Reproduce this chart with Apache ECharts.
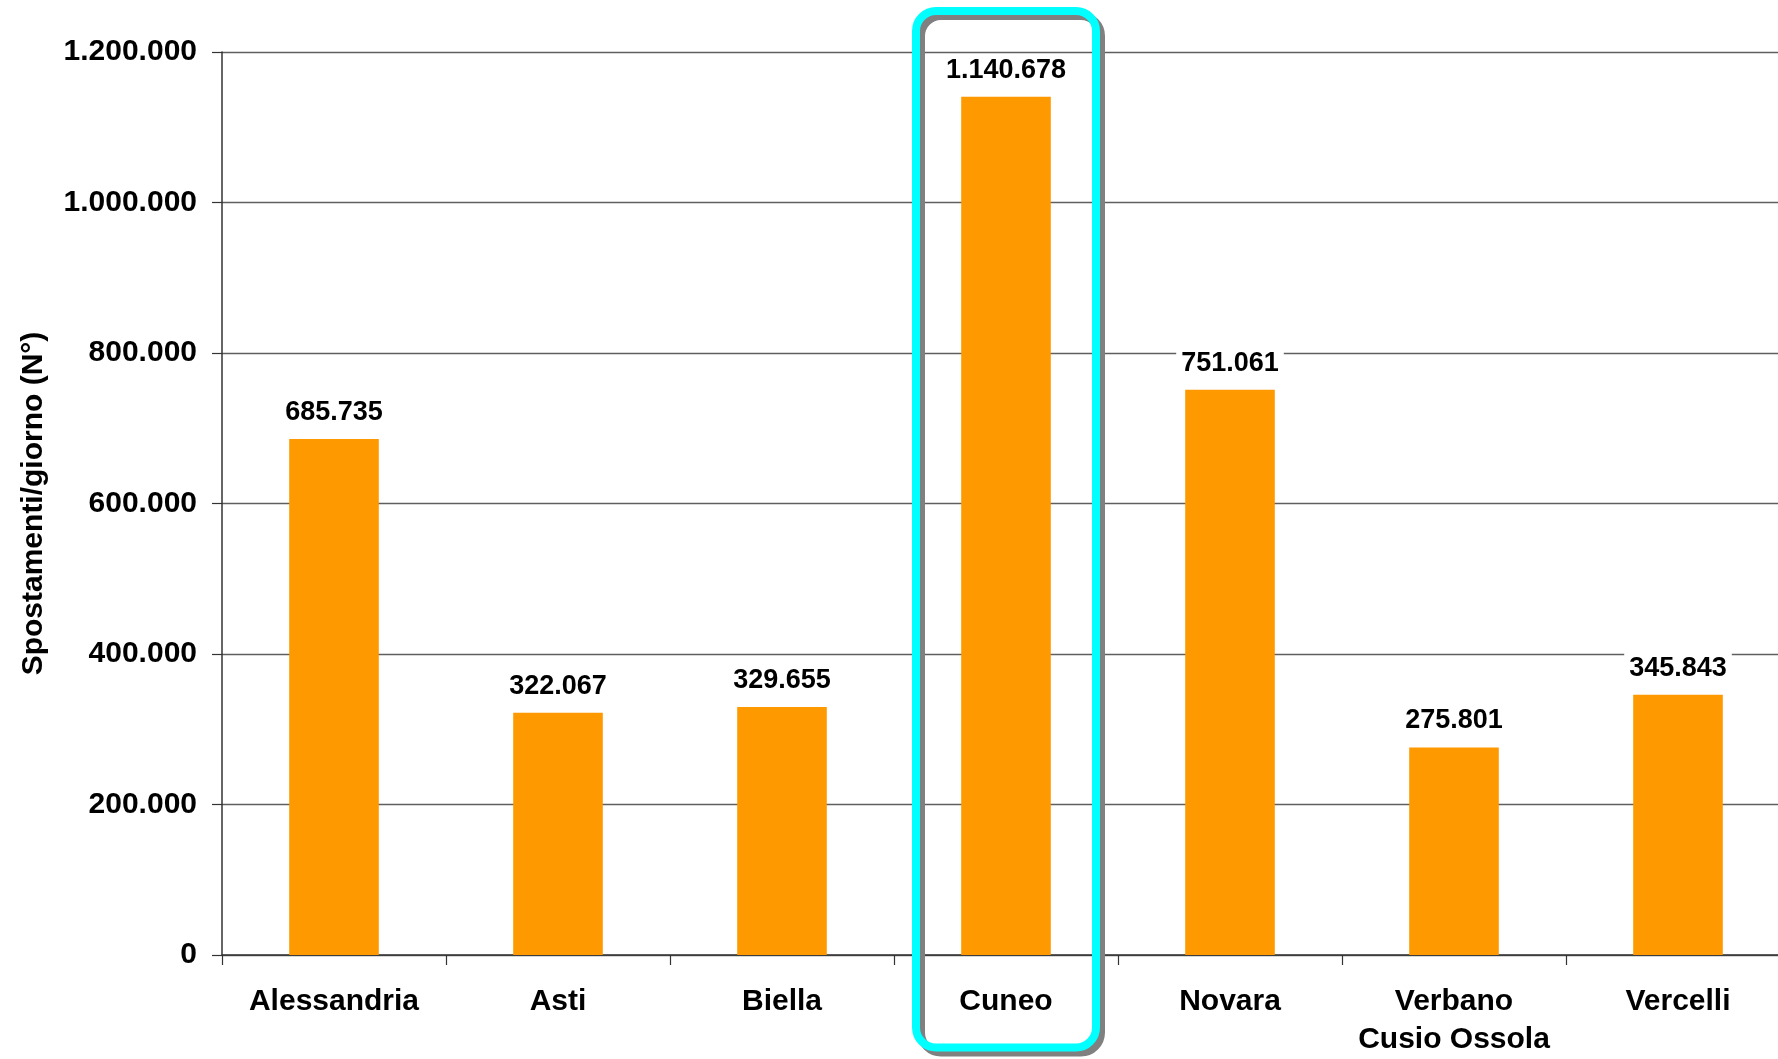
<!DOCTYPE html>
<html>
<head>
<meta charset="utf-8">
<script src="https://cdn.jsdelivr.net/npm/echarts@6/dist/echarts.min.js"></script>
<style>
html,body{margin:0;padding:0;background:#fff;overflow:hidden;width:1778px;height:1059px;}
#chart{width:1790px;height:1059px;}
</style>
</head>
<body>
<div id="chart"></div>
<script>
const categories = ['Alessandria', 'Asti', 'Biella', 'Cuneo', 'Novara', 'Verbano\nCusio Ossola', 'Vercelli'];
const values = [685735, 322067, 329655, 1140678, 751061, 275801, 345843];
const yTicks = [0, 200000, 400000, 600000, 800000, 1000000, 1200000];
const highlighted = 'Cuneo';

function fmt(v) {
  return String(Math.round(v)).replace(/\B(?=(\d{3})+(?!\d))/g, '.');
}

(function () {
const FONT = '"Liberation Sans", Arial, sans-serif';
const chart = echarts.init(document.getElementById('chart'));
chart.setOption({
  animation: false,
  backgroundColor: '#ffffff',
  grid: { left: 222, top: 52, right: 0, height: 903, containLabel: false },
  xAxis: {
    type: 'category',
    data: categories,
    axisLine: { lineStyle: { color: '#333', width: 1.5 } },
    axisTick: { show: true, length: 10, lineStyle: { color: '#333', width: 1.2 } },
    axisLabel: {
      interval: 0, margin: 28, color: '#000', fontFamily: FONT, fontWeight: 'bold',
      fontSize: 30, lineHeight: 38
    }
  },
  yAxis: {
    type: 'value',
    min: yTicks[0],
    max: yTicks[yTicks.length - 1],
    interval: yTicks[1] - yTicks[0],
    name: 'Spostamenti/giorno (N°)',
    nameLocation: 'middle',
    nameRotate: 90,
    nameGap: 173,
    nameTextStyle: { color: '#000', fontFamily: FONT, fontWeight: 'bold', fontSize: 30 },
    axisLine: { show: true, lineStyle: { color: '#333', width: 1.5 } },
    axisTick: { show: true, length: 10, lineStyle: { color: '#333', width: 1.2 } },
    splitLine: { show: true, lineStyle: { color: '#5f5f5f', width: 1.3 } },
    axisLabel: {
      margin: 25, color: '#000', fontFamily: FONT, fontWeight: 'bold', fontSize: 30,
      formatter: v => fmt(v)
    }
  },
  series: [{
    type: 'bar',
    data: values,
    barWidth: '40%',
    itemStyle: { color: '#FF9900' },
    label: {
      show: true, position: 'top', distance: 11,
      color: '#000', fontFamily: FONT, fontWeight: 'bold', fontSize: 27, lineHeight: 27,
      backgroundColor: '#fff', padding: [2, 5],
      formatter: p => fmt(p.value)
    }
  }]
});

const cx = chart.convertToPixel({ xAxisIndex: 0 }, highlighted);
const bw = 180, boxTop = 11, boxH = 1036.5, rad = 20;
chart.setOption({
  graphic: [
    { type: 'rect', z: 100, shape: { x: cx - bw / 2 + 5, y: boxTop + 5, width: bw, height: boxH, r: rad },
      style: { fill: 'none', stroke: '#808080', lineWidth: 8 } },
    { type: 'rect', z: 101, shape: { x: cx - bw / 2, y: boxTop, width: bw, height: boxH, r: rad },
      style: { fill: 'none', stroke: '#00FFFF', lineWidth: 8 } }
  ]
});
})();
</script>
</body>
</html>
